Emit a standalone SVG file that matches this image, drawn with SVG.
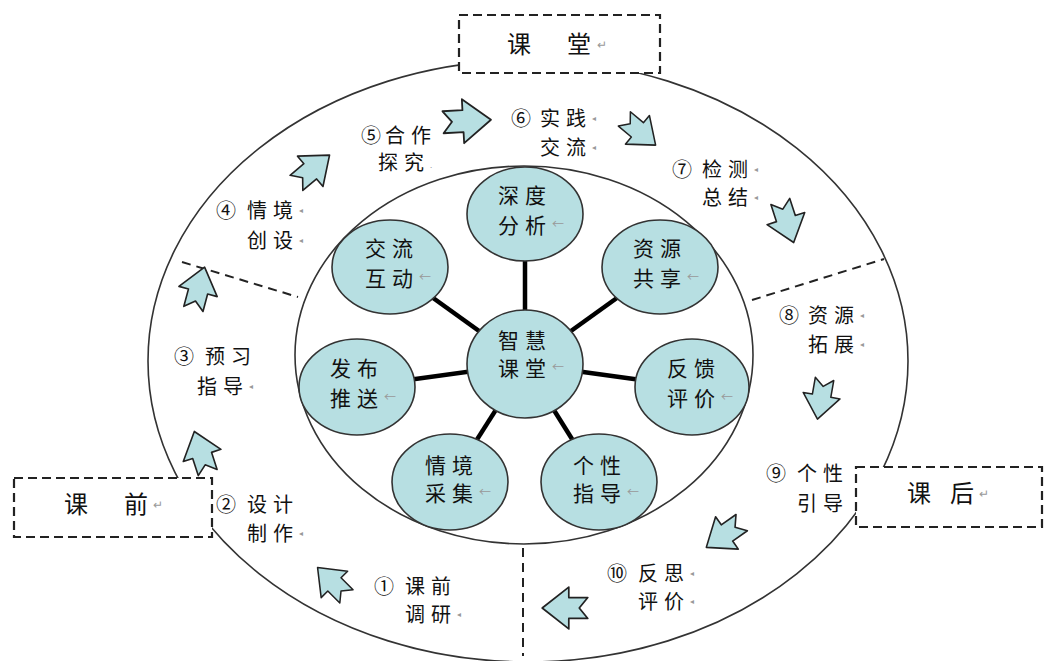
<svg xmlns="http://www.w3.org/2000/svg" width="1046" height="661" viewBox="0 0 1046 661">
<style>
text{font-family:"Noto Sans CJK SC","Liberation Sans",sans-serif;fill:#111}
.ring{fill:none;stroke:#333;stroke-width:1.6}
.div{fill:none;stroke:#222;stroke-width:2;stroke-dasharray:9 6}
.box{fill:#fff;stroke:#222;stroke-width:2.2;stroke-dasharray:9 5}
.arr{fill:#b7dfe2;stroke:#222;stroke-width:1.8;stroke-linejoin:round}
.node{fill:#b7dfe2;stroke:#333;stroke-width:1.6}
.spoke{stroke:#000;stroke-width:4.5}
.nt{font-size:21px;letter-spacing:6px}
.lt{font-size:20px;letter-spacing:6px}
.num{font-size:20px}
.bt{font-size:24px}
.pm{fill:#999;font-size:12px;letter-spacing:0}
.pt{fill:#999;font-size:8px;letter-spacing:0}
</style>
<defs>
<polygon id="ar" class="arr" points="24,0 -4,22 -4,11 -24,11 -15,0 -24,-11 -4,-11 -4,-22"/>
</defs>

<g id="frame">
<ellipse class="ring" cx="528" cy="361" rx="380" ry="301"/>
<ellipse class="ring" cx="524" cy="355" rx="229" ry="189"/>
<line class="div" x1="182" y1="262" x2="298" y2="297"/>
<line class="div" x1="752" y1="300" x2="884" y2="259"/>
<line class="div" x1="523" y1="548" x2="523" y2="656"/>
</g>

<g id="box-ketang">
<rect class="box" x="459" y="15" width="201" height="58"/>
<text class="bt" y="53"><tspan x="507">课</tspan><tspan x="567">堂</tspan><tspan class="pm" x="597" dy="-4">↵</tspan></text>
</g>
<g id="box-keqian">
<rect class="box" x="14" y="478" width="198" height="59"/>
<text class="bt" y="513"><tspan x="64">课</tspan><tspan x="124">前</tspan><tspan class="pm" x="153" dy="-4">↵</tspan></text>
</g>
<g id="box-kehou">
<rect class="box" x="856" y="467" width="186" height="60"/>
<text class="bt" y="502"><tspan x="907">课</tspan><tspan x="950">后</tspan><tspan class="pm" x="979" dy="-4">↵</tspan></text>
</g>

<g id="arrows">
<use href="#ar" transform="translate(332,582) rotate(-135) scale(0.85)"/>
<use href="#ar" transform="translate(201,452) rotate(-108) scale(0.9)"/>
<use href="#ar" transform="translate(199,288) rotate(-75) scale(0.9)"/>
<use href="#ar" transform="translate(313,169) rotate(-40) scale(0.9)"/>
<use href="#ar" transform="translate(467,121) rotate(-3)"/>
<use href="#ar" transform="translate(640,132) rotate(40) scale(0.85)"/>
<use href="#ar" transform="translate(787,222) rotate(72) scale(0.9)"/>
<use href="#ar" transform="translate(821,399) rotate(100) scale(0.85)"/>
<use href="#ar" transform="translate(724,535) rotate(145) scale(0.9)"/>
<use href="#ar" transform="translate(565,608) rotate(180) scale(0.95)"/>
</g>

<g id="connectors">
<line class="spoke" x1="525" y1="364" x2="525" y2="214"/>
<line class="spoke" x1="525" y1="364" x2="390" y2="267"/>
<line class="spoke" x1="525" y1="364" x2="660" y2="267"/>
<line class="spoke" x1="525" y1="364" x2="357" y2="387"/>
<line class="spoke" x1="525" y1="364" x2="692" y2="387"/>
<line class="spoke" x1="525" y1="364" x2="450" y2="482"/>
<line class="spoke" x1="525" y1="364" x2="599" y2="482"/>
</g>

<g id="n-center"><ellipse class="node" cx="525" cy="364" rx="58" ry="54"/>
<text class="nt"><tspan x="498" y="348">智慧</tspan><tspan x="498" y="376">课堂</tspan><tspan class="pm" dy="-4">←</tspan></text></g>
<g id="n-shendu"><ellipse class="node" cx="525" cy="214" rx="58" ry="47"/>
<text class="nt"><tspan x="498" y="203">深度</tspan><tspan x="498" y="233">分析</tspan><tspan class="pm" dy="-4">←</tspan></text></g>
<g id="n-jiaoliu"><ellipse class="node" cx="390" cy="267" rx="58" ry="47"/>
<text class="nt"><tspan x="365" y="256">交流</tspan><tspan x="365" y="286">互动</tspan><tspan class="pm" dy="-4">←</tspan></text></g>
<g id="n-ziyuan"><ellipse class="node" cx="660" cy="267" rx="58" ry="47"/>
<text class="nt"><tspan x="633" y="256">资源</tspan><tspan x="633" y="286">共享</tspan><tspan class="pm" dy="-4">←</tspan></text></g>
<g id="n-fabu"><ellipse class="node" cx="357" cy="387" rx="58" ry="48"/>
<text class="nt"><tspan x="330" y="376">发布</tspan><tspan x="330" y="406">推送</tspan><tspan class="pm" dy="-4">←</tspan></text></g>
<g id="n-fankui"><ellipse class="node" cx="692" cy="387" rx="57" ry="48"/>
<text class="nt"><tspan x="667" y="376">反馈</tspan><tspan x="667" y="406">评价</tspan><tspan class="pm" dy="-4">←</tspan></text></g>
<g id="n-qingjing"><ellipse class="node" cx="450" cy="482" rx="58" ry="48"/>
<text class="nt"><tspan x="425" y="473">情境</tspan><tspan x="425" y="501">采集</tspan><tspan class="pm" dy="-4">←</tspan></text></g>
<g id="n-gexing"><ellipse class="node" cx="599" cy="482" rx="58" ry="48"/>
<text class="nt"><tspan x="573" y="473">个性</tspan><tspan x="573" y="501">指导</tspan><tspan class="pm" dy="-4">←</tspan></text></g>

<g id="steps">
<g id="s1"><text class="num" x="374" y="594">①</text><text class="lt"><tspan x="405" y="594">课前</tspan><tspan x="405" y="622">调研</tspan><tspan class="pt" dy="-5">◂</tspan></text></g>
<g id="s2"><text class="num" x="216" y="512">②</text><text class="lt"><tspan x="247" y="512">设计</tspan><tspan x="247" y="541">制作</tspan><tspan class="pt" dy="-5">◂</tspan></text></g>
<g id="s3"><text class="num" x="174" y="364">③</text><text class="lt"><tspan x="205" y="364">预习</tspan><tspan x="197" y="394">指导</tspan><tspan class="pt" dy="-5">◂</tspan></text></g>
<g id="s4"><text class="num" x="216" y="218">④</text><text class="lt"><tspan x="247" y="218">情境</tspan><tspan class="pt" dy="-5">◂</tspan><tspan x="247" y="248">创设</tspan><tspan class="pt" dy="-5">◂</tspan></text></g>
<g id="s5"><text class="num" x="361" y="143">⑤</text><text class="lt"><tspan x="385" y="143">合作</tspan><tspan x="378" y="170">探究</tspan><tspan class="pt" dy="-2">.</tspan></text></g>
<g id="s6"><text class="num" x="511" y="126">⑥</text><text class="lt"><tspan x="540" y="126">实践</tspan><tspan class="pt" dy="-5">◂</tspan><tspan x="540" y="155">交流</tspan><tspan class="pt" dy="-5">◂</tspan></text></g>
<g id="s7"><text class="num" x="672" y="177">⑦</text><text class="lt"><tspan x="702" y="177">检测</tspan><tspan class="pt" dy="-5">◂</tspan><tspan x="702" y="205">总结</tspan><tspan class="pt" dy="-5">◂</tspan></text></g>
<g id="s8"><text class="num" x="779" y="323">⑧</text><text class="lt"><tspan x="808" y="323">资源</tspan><tspan class="pt" dy="-5">◂</tspan><tspan x="808" y="352">拓展</tspan><tspan class="pt" dy="-5">◂</tspan></text></g>
<g id="s9"><text class="num" x="766" y="481">⑨</text><text class="lt"><tspan x="797" y="481">个性</tspan><tspan x="797" y="511">引导</tspan></text></g>
<g id="s10"><text class="num" x="607" y="581">⑩</text><text class="lt"><tspan x="638" y="581">反思</tspan><tspan class="pt" dy="-5">◂</tspan><tspan x="638" y="609">评价</tspan><tspan class="pt" dy="-5">◂</tspan></text></g>
</g>
</svg>
